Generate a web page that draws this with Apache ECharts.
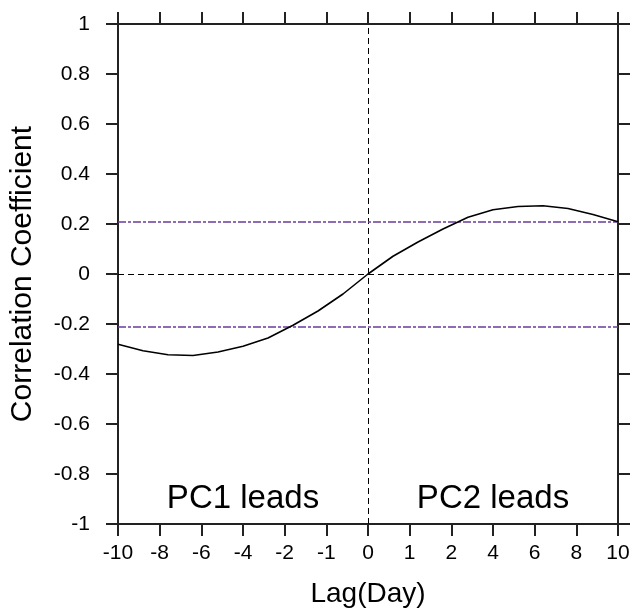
<!DOCTYPE html>
<html>
<head>
<meta charset="utf-8">
<script src="https://cdn.jsdelivr.net/npm/echarts@6/dist/echarts.min.js"></script>
<style>
  html, body { margin: 0; padding: 0; background: #fff; }
  #main { width: 633px; height: 614px; }
</style>
</head>
<body>
<div id="main"></div>
<script>
// lag (days) and correlation between PC1 and PC2
var lags = [-10, -9, -8, -7, -6, -5, -4, -3, -2, -1, 0, 1, 2, 3, 4, 5, 6, 7, 8, 9, 10];
var corr = [-0.281, -0.307, -0.323, -0.326, -0.312, -0.289, -0.256, -0.205, -0.148, -0.080, 0.000,
            0.071, 0.128, 0.180, 0.227, 0.257, 0.270, 0.273, 0.262, 0.238, 0.209];
// bottom axis labels (evenly spaced ticks)
var xTickLabels = ['-10', '-8', '-6', '-4', '-2', '-1', '0', '1', '2', '4', '6', '8', '10'];
// significance level
var sigLevel = 0.206;
var leadTexts = ['PC1 leads', 'PC2 leads'];

var font = 'Liberation Sans';
var axisColor = '#222';

function frameAxis(extra) {
    var base = {
        axisLine: { show: true, onZero: false, lineStyle: { color: axisColor, width: 2 } },
        axisTick: { show: true, inside: false, length: 12, lineStyle: { color: axisColor, width: 2 } },
        splitLine: { show: false }
    };
    return Object.assign(base, extra);
}

var myChart = echarts.init(document.getElementById('main'));
var option = {
    animation: false,
    backgroundColor: '#fff',
    textStyle: { fontFamily: font },
    grid: { left: 118, top: 24, right: 15, bottom: 90 },
    xAxis: [
        frameAxis({
            type: 'category',
            position: 'bottom',
            data: xTickLabels,
            boundaryGap: false,
            axisLabel: { color: '#000', fontSize: 21, fontFamily: font, margin: 19, interval: 0 },
            name: 'Lag(Day)',
            nameLocation: 'middle',
            nameGap: 56,
            nameTextStyle: { color: '#000', fontSize: 28, fontFamily: font }
        }),
        {
            type: 'value',
            position: 'top',
            min: -10,
            max: 10,
            show: false
        },
        frameAxis({
            type: 'category',
            position: 'top',
            data: xTickLabels,
            boundaryGap: false,
            axisLabel: { show: false }
        })
    ],
    yAxis: [
        frameAxis({
            type: 'value',
            position: 'left',
            min: -1,
            max: 1,
            interval: 0.2,
            axisLabel: { color: '#000', fontSize: 21, fontFamily: font, margin: 28 },
            name: 'Correlation Coefficient',
            nameLocation: 'middle',
            nameGap: 80,
            nameTextStyle: { color: '#000', fontSize: 30, fontFamily: font }
        }),
        frameAxis({
            type: 'value',
            position: 'right',
            min: -1,
            max: 1,
            interval: 0.2,
            axisLabel: { show: false }
        })
    ],
    series: [
        {
            type: 'line',
            xAxisIndex: 1,
            yAxisIndex: 0,
            data: lags.map(function (l, i) { return [l, corr[i]]; }),
            symbol: 'none',
            smooth: false,
            lineStyle: { color: '#000', width: 1.6 },
            z: 5,
            markLine: {
                silent: true,
                symbol: 'none',
                label: { show: false },
                data: [
                    { yAxis: 0, lineStyle: { color: '#000', width: 1, type: [6, 4] } },
                    { xAxis: 0, lineStyle: { color: '#000', width: 1, type: [6, 4] } },
                    { yAxis: sigLevel, lineStyle: { color: '#6a3d9a', width: 1.5, type: [8, 2, 3, 2] } },
                    { yAxis: -sigLevel, lineStyle: { color: '#6a3d9a', width: 1.5, type: [8, 2, 3, 2] } }
                ]
            },
            markPoint: {
                silent: true,
                symbolSize: 0,
                label: {
                    show: true,
                    position: 'inside',
                    color: '#000',
                    fontSize: 33,
                    fontFamily: font,
                    formatter: function (p) { return p.name; }
                },
                data: [
                    { name: leadTexts[0], coord: [-5, -0.9] },
                    { name: leadTexts[1], coord: [5, -0.9] }
                ]
            }
        }
    ]
};
myChart.setOption(option);
</script>
</body>
</html>
